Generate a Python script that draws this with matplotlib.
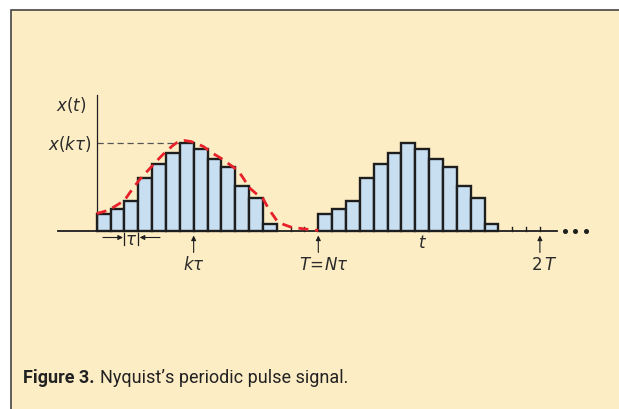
import matplotlib
matplotlib.use("Agg")
import matplotlib.pyplot as plt
from matplotlib.patches import Rectangle
import numpy as np

plt.rcParams['mathtext.fontset'] = 'dejavusans'

# sampled values x(k*tau) over one period, N = 16 slots (last three are empty)
x_samples = [16.7, 21.7, 29.7, 52.5, 66.2, 77.5, 87.5, 81.8, 71.5, 63.7,
             44.5, 32.7, 6.7, 0, 0, 0]
N = len(x_samples)
n_periods = 2

# continuous x(t) over the first period, t in units of tau
curve_t = [0, 0.8, 1.3, 2.0, 2.4, 3.1, 3.5, 4.1, 4.5, 5.0, 5.5, 5.8, 6.3,
           6.8, 7.2, 7.7, 8.4, 9.0, 9.6, 10.2, 10.6, 11.0, 11.5, 12.0, 12.4,
           13.0, 13.5, 14.0, 15.0, 16.0]
curve_x = [17, 20, 24, 30, 38, 51, 57, 66, 72, 79, 85, 88, 90, 89, 87, 84,
           77, 72, 66, 60, 52, 43, 37, 32, 22, 10, 6, 3.5, 1.5, 0]

k_mark = 7
empty_ticks = [14, 15, 30, 31, 32]
ellipsis_t = [33.8, 34.55, 35.3]

BEIGE = '#fdedc5'
BLUE = '#c8dff2'
DARK = '#1e1e1e'
TXT = '#2a2a2a'
RED = '#e8202a'
FS = 12

fig = plt.figure(figsize=(6.19, 4.10), dpi=100)
fig.patch.set_facecolor('white')

# beige panel, only left and top border visible
fig.patches.append(Rectangle((11 / 619, -0.1), 1.2, (410 - 11) / 410 + 0.1,
                             transform=fig.transFigure, facecolor=BEIGE,
                             edgecolor='#444444', lw=1.2, zorder=-5))

ax = fig.add_axes([0, 0, 1, 1])
ax.set_zorder(1)
ax.set_facecolor('none')
px = 13.85
ax.set_xlim(-96.7 / px, (619 - 96.7) / px)
ax.set_ylim(-(410 - 231.5), 231.5)
ax.axis('off')

# bars
heights = np.tile(x_samples, n_periods)
t_all = np.arange(N * n_periods)
keep = heights > 0
ax.bar(t_all[keep], heights[keep], width=1, align='edge', color=BLUE,
       edgecolor=DARK, linewidth=1.7, zorder=2)

# baseline and vertical axis
ax.plot([-2.8, 33.2], [0, 0], color=DARK, lw=1.3, zorder=3)
ax.plot([0, 0], [0, 136], color=DARK, lw=0.9, zorder=3)
for t in empty_ticks:
    ax.plot([t, t], [0, 4], color=DARK, lw=1.0, zorder=3)
ax.plot(ellipsis_t, [0] * len(ellipsis_t), 'o', color=DARK, ms=2.6, zorder=3)

# x(t) curve and x(k tau) level
ax.plot(curve_t, curve_x, color=RED, lw=2.0, dashes=(3.6, 2.4), zorder=4)
ax.plot([0, k_mark - 1], [x_samples[k_mark - 1]] * 2, color='#555555',
        lw=0.9, dashes=(5, 3), zorder=1)

# labels on the left
ax.text(-0.72, 126.5, r'$x(t)$', ha='right', va='center', fontsize=FS, color=TXT)
ax.text(-0.36, x_samples[k_mark - 1], r'$x(k\tau)$', ha='right', va='center',
        fontsize=FS, color=TXT)

# arrows under the axis
arrow = dict(arrowstyle='-|>', lw=0.8, color=DARK, mutation_scale=7,
             shrinkA=0, shrinkB=0)
for t, lbl, dx in [(k_mark, r'$k\tau$', 0), (N, r'$T\!=\!N\tau$', 0.4),
                   (2 * N, r'$2\,T$', 0.3)]:
    ax.annotate('', xy=(t, -5), xytext=(t, -22), arrowprops=arrow)
    ax.text(t + dx, -34, lbl, ha='center', va='center', fontsize=FS, color=TXT)

ax.text(23.5, -11.5, r'$t$', ha='center', va='center', fontsize=FS, color=TXT)

# tau marker
ax.plot([2, 2], [-2, -14], color=DARK, lw=0.9)
ax.plot([3, 3], [-2, -14], color=DARK, lw=0.9)
ax.text(2.5, -8.5, r'$\tau$', ha='center', va='center', fontsize=FS, color=TXT)
ax.annotate('', xy=(1.9, -7), xytext=(0.45, -7), arrowprops=arrow)
ax.annotate('', xy=(3.1, -7), xytext=(4.57, -7), arrowprops=arrow)

# caption
t1 = fig.text(23 / 619, 1 - 383 / 410, 'Figure 3.', fontweight='bold',
              fontsize=13, family='Roboto', color='#222', va='baseline')
fig.canvas.draw()
bb = t1.get_window_extent()
fig.text((bb.x1 + 5) / 619, 1 - 383 / 410, 'Nyquist\u2019s periodic pulse signal.',
         fontsize=13, family='Roboto', color='#222', va='baseline')

fig.savefig('out.png', dpi=100)
